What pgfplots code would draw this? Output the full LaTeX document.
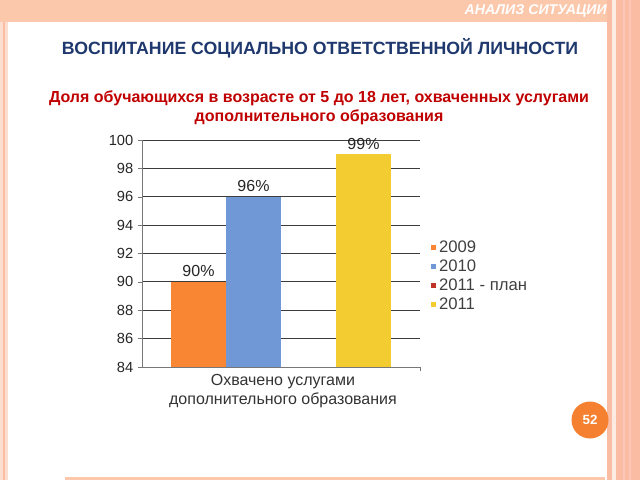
\documentclass[border=0pt]{standalone}
\usepackage{pgfplots}
\pgfplotsset{compat=1.18}
\usepackage{fontspec}
\setmainfont{Liberation Sans}
\definecolor{peach}{RGB}{251,200,172}
\definecolor{peachR}{RGB}{250,188,162}
\definecolor{peachL}{RGB}{252,222,208}
\definecolor{titleblue}{RGB}{31,56,110}
\definecolor{subred}{RGB}{192,0,0}
\definecolor{barorange}{RGB}{248,134,50}
\definecolor{barblue}{RGB}{112,151,214}
\definecolor{baryellow}{RGB}{242,204,48}
\definecolor{bardarkred}{RGB}{190,50,40}
\definecolor{circleorange}{RGB}{245,128,48}
\definecolor{gridgray}{RGB}{60,60,60}
\begin{document}
\begin{tikzpicture}[x=0.75pt,y=0.75pt]
\useasboundingbox (0,0) rectangle (640,480);
\fill[white] (0,0) rectangle (640,480);
% left stripe
\fill[peachL] (0,0) rectangle (8,480);
\draw[peachR,line width=1pt] (4,0) -- (4,458);
% top bar
\fill[peach] (0,458) rectangle (607,480);
% right region
\fill[peachR] (607,0) rectangle (640,480);
\fill[white!70!peachR] (612,0) rectangle (616,480);
\draw[peachR!85!red!60!white,line width=0.8pt] (624,0) -- (624,480);
\draw[peachR!85!red!60!white,line width=0.8pt] (630,0) -- (630,480);
% bottom line
\fill[peach] (65,0) rectangle (605,3);
% header
\node[anchor=east,text=white,font=\fontsize{10.6}{12}\selectfont\bfseries\itshape,inner sep=0pt] at (607,469) {АНАЛИЗ СИТУАЦИИ};
% title
\node[text=titleblue,font=\fontsize{13.3}{16}\selectfont\bfseries] at (320,432) {ВОСПИТАНИЕ СОЦИАЛЬНО ОТВЕТСТВЕННОЙ ЛИЧНОСТИ};
% subtitle
\node[text=subred,font=\fontsize{12}{14.3}\selectfont\bfseries,align=center] at (319,372) {Доля обучающихся в возрасте от 5 до 18 лет, охваченных услугами\\дополнительного образования};
% page number
\fill[circleorange] (590,60) circle (18.5);
\node[text=white,font=\fontsize{10}{11}\selectfont\bfseries] at (590,60) {52};
\begin{axis}[
  at={(106.5pt,84.75pt)}, anchor=south west,
  scale only axis, width=208.5pt, height=170.25pt,
  ybar=0pt,
  ymin=84, ymax=100, ytick distance=2,
  xmin=-1, xmax=1, xtick={0},
  xticklabels={},
  axis line style={gridgray!70},
  axis x line*=bottom, axis y line*=left,
  ymajorgrids, grid style={gridgray,line width=0.6pt},
  major tick length=3pt,
  ytick style={gridgray!70}, xtick style={draw=none},
  tick align=outside,
  yticklabel style={font=\fontsize{11}{12}\selectfont, text=black!85},
  /pgf/number format/assume math mode=true,
  bar width=41.25pt,
  legend style={at={(1.04,0.57)}, anchor=north west, draw=none, fill=none,
    font=\fontsize{12.5}{13}\selectfont, text=black!75, row sep=0pt,
    inner sep=0pt},
  legend cell align=left,
  legend image code/.code={\fill[#1] (0pt,-1.9pt) rectangle (3.8pt,1.9pt);},
  nodes near coords style={font=\fontsize{12}{13}\selectfont, text=black!85},
  clip=true,
]
\addplot[fill=barorange, draw=none,
  nodes near coords={\pgfmathprintnumber{\pgfplotspointmeta}\%}] coordinates {(0,90)};
\addlegendentry{2009}
\addplot[fill=barblue, draw=none,
  nodes near coords={\pgfmathprintnumber{\pgfplotspointmeta}\%}] coordinates {(0,96)};
\addlegendentry{2010}
\addplot[fill=bardarkred, draw=none] coordinates {(0,0)};
\addlegendentry{2011 - план}
\addplot[fill=baryellow, draw=none,
  nodes near coords={\pgfmathprintnumber{\pgfplotspointmeta}\%}] coordinates {(0,99)};
\addlegendentry{2011}
\end{axis}
\node[align=center,font=\fontsize{12}{14.5}\selectfont,text=black!80] at (283,89) {Охвачено услугами\\дополнительного образования};
\draw[gridgray!70] (420,113) -- (420,109);
\end{tikzpicture}
\end{document}
